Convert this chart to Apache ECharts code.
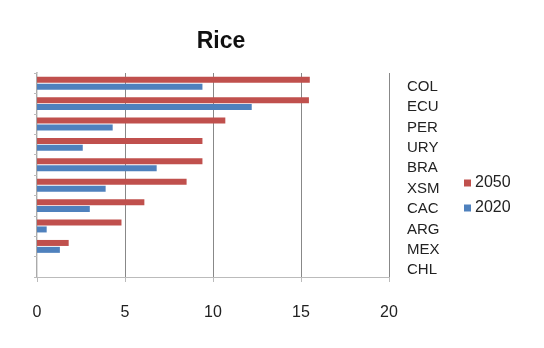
<!DOCTYPE html>
<html><head><meta charset="utf-8">
<script src="https://cdn.jsdelivr.net/npm/echarts@6/dist/echarts.min.js"></script>
<style>html,body{margin:0;padding:0;background:#fff}#c{width:544px;height:348px}</style>
</head><body><div id="c"></div>
<script>
var categories = ['COL','ECU','PER','URY','BRA','XSM','CAC','ARG','MEX','CHL'];
var values2050 = [15.5, 15.45, 10.7, 9.4, 9.4, 8.5, 6.1, 4.8, 1.8, 0];
var values2020 = [9.4, 12.2, 4.3, 2.6, 6.8, 3.9, 3.0, 0.55, 1.3, 0];
var xTicks = [0, 5, 10, 15, 20];

var chart = echarts.init(document.getElementById('c'));
chart.setOption({
  animation: false,
  backgroundColor: '#fff',
  title: { text: 'Rice', left: 216, textAlign: 'center', top: 25,
    textStyle: { fontFamily: 'Liberation Sans', fontWeight: 'bold', fontSize: 23, color: '#111' } },
  legend: { orient: 'vertical', left: 459, top: 170, itemWidth: 7, itemHeight: 7, itemGap: 9,
    icon: 'rect', data: ['2050', '2020'],
    textStyle: { fontFamily: 'Liberation Sans', fontSize: 16, color: '#222', padding: [0,0,0,-1] } },
  grid: { left: 37, right: 155, top: 73, bottom: 71 },
  xAxis: { type: 'value', min: xTicks[0], max: xTicks[xTicks.length-1], interval: 5,
    axisLine: { show: true, lineStyle: { color: '#bbb' } },
    axisTick: { show: true, lineStyle: { color: '#bbb' } },
    splitLine: { show: true, lineStyle: { color: '#888', width: 1 } },
    axisLabel: { margin: 28, fontFamily: 'Liberation Sans', fontSize: 16, color: '#222' } },
  yAxis: [{ type: 'category', data: categories, inverse: true, position: 'right',
    axisLine: { show: true, lineStyle: { color: '#aaa', width: 2 } },
    axisTick: { show: false },
    axisLabel: { margin: 18, align: 'left', verticalAlign: 'top', lineHeight: 7,
      fontFamily: 'Liberation Sans', fontSize: 15, color: '#222' } },
    { type: 'category', data: categories, inverse: true, position: 'left',
    axisLine: { show: true, lineStyle: { color: '#ddd' } },
    axisTick: { show: true, length: 3, lineStyle: { color: '#bbb' } },
    axisLabel: { show: false } }],
  series: [
    { name: '2050', type: 'bar', data: values2050, barWidth: 6, barGap: '15%',
      itemStyle: { color: '#c0504d' } },
    { name: '2020', type: 'bar', data: values2020, barWidth: 6, barGap: '15%',
      itemStyle: { color: '#4f81bd' } }
  ]
});
</script></body></html>
